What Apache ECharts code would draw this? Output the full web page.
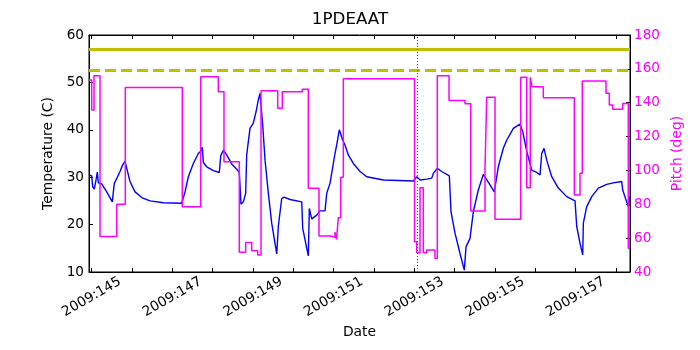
<!DOCTYPE html>
<html>
<head>
<meta charset="utf-8">
<script src="https://cdn.jsdelivr.net/npm/echarts@6/dist/echarts.min.js"></script>
<style>html,body{margin:0;padding:0;background:#fff}#c{width:700px;height:350px}</style>
</head>
<body>
<div id="c"></div>
<script>
// ---- data (day of year 2009, decimal) ----
const xMin = 144.933, xMax = 158.347;
const tickDays = [145,146,147,148,149,150,151,152,153,154,155,156,157,158];
const labelDays = [145,147,149,151,153,155,157];
const tempTimes = [144.933,145.000,145.025,145.064,145.107,145.139,145.164,145.248,145.372,145.511,145.560,145.635,145.702,145.769,145.826,145.868,145.950,146.074,146.240,146.446,146.776,147.232,147.314,147.396,147.520,147.644,147.703,147.743,147.768,147.852,148.016,148.164,148.199,148.263,148.347,148.471,148.595,148.660,148.702,148.759,148.818,148.843,148.925,149.007,149.075,149.131,149.173,149.198,149.240,149.298,149.380,149.463,149.588,149.627,149.711,149.769,149.917,150.208,150.232,150.371,150.396,150.455,150.579,150.661,150.785,150.827,150.909,150.991,151.033,151.075,151.140,151.182,151.224,151.281,151.363,151.487,151.653,151.819,152.232,152.976,153.011,153.060,153.142,153.308,153.432,153.471,153.569,153.678,153.867,153.909,154.008,154.132,154.239,154.281,154.380,154.462,154.586,154.710,154.752,154.876,154.982,155.082,155.206,155.290,155.454,155.620,155.687,155.786,155.910,156.034,156.116,156.158,156.215,156.282,156.406,156.570,156.778,156.984,157.026,157.107,157.175,157.190,157.274,157.398,157.562,157.770,157.933,158.141,158.166,158.264,158.305,158.347];
const tempValues = [30.5,30.25,28.0,27.5,29.4,31.1,28.8,28.6,26.9,24.8,28.7,30.0,31.2,32.6,33.4,31.9,29.1,26.9,25.7,25.0,24.6,24.5,26.9,30.1,32.9,35.0,35.5,36.3,33.1,32.2,31.4,31.0,34.5,35.7,34.7,32.8,31.7,31.0,24.3,24.8,26.6,34.7,40.3,41.4,43.8,46.3,47.7,48.0,41.0,33.6,26.6,20.3,13.8,19.6,25.5,25.8,25.3,24.8,19.2,13.4,23.4,21.2,22.0,22.9,22.9,26.6,28.7,32.9,35.0,36.8,40.0,40.3,37.8,36.8,34.7,32.9,31.2,30.1,29.4,29.2,29.05,30.1,29.4,29.6,29.8,30.8,31.9,31.2,30.3,22.7,18.2,13.9,10.4,15.3,17.1,22.7,27.3,30.6,30.3,28.4,26.9,32.2,36.1,37.8,40.3,41.2,39.6,35.5,31.5,31.0,30.5,35.0,36.1,33.6,30.1,27.7,25.9,25.0,19.6,16.1,13.6,20.3,23.8,25.9,27.7,28.5,28.8,29.1,27.3,24.8,23.8,26.0];
const pitchTimes = [144.933,145.000,145.057,145.206,145.620,145.833,147.246,147.703,148.139,148.280,148.660,148.818,148.967,149.116,149.198,149.612,149.726,150.222,150.371,150.636,150.909,151.033,151.070,151.115,151.174,151.239,153.004,153.059,153.140,153.222,153.307,153.512,153.569,153.860,154.256,154.398,154.752,154.794,155.000,155.637,155.786,155.875,155.918,156.197,156.966,157.107,157.164,157.752,157.834,157.918,158.166,158.305,158.347];
const pitchValues = [153.4,135.7,156.0,61.0,80.0,149.0,78.6,155.4,146.5,105.2,51.6,57.5,52.6,50.0,147.1,136.7,146.5,148.0,89.4,61.3,60.5,63.5,59.3,72.1,95.9,154.2,57.9,51.4,89.8,51.4,53.0,48.0,156.0,141.3,139.4,76.0,101.2,143.2,71.1,155.0,89.8,155.0,149.5,143.0,85.5,98.3,152.8,145.6,138.6,136.1,139.6,54.0,54.0];
const limitSolid = [57];
const limitDashed = [52.5];
const eventDay = [153.07];

const tempData = tempTimes.map((t, i) => [t, tempValues[i]]);
const pitchData = pitchTimes.map((t, i) => [t, pitchValues[i]]);

const FONT = 'DejaVu Sans';
const chart = echarts.init(document.getElementById('c'), null, {renderer: 'canvas'});
chart.setOption({
  animation: false,
  backgroundColor: '#fff',
  title: {
    text: '1PDEAAT', left: 'center', top: 11, padding: 0,
    textStyle: {fontFamily: FONT, fontSize: 16.7, fontWeight: 'normal', color: '#000'}
  },
  grid: {left: 89, right: 70, top: 35, bottom: 78, show: true, borderColor: '#000', borderWidth: 1, backgroundColor: 'transparent'},
  xAxis: [{
    type: 'value', min: xMin, max: xMax, position: 'bottom',
    name: 'Date', nameLocation: 'middle', nameGap: 50,
    nameTextStyle: {fontFamily: FONT, fontSize: 13.9, color: '#000'},
    axisLine: {show: true, lineStyle: {color: '#000', width: 1}},
    axisTick: {show: true, inside: true, length: 4, customValues: tickDays, lineStyle: {color: '#000'}},
    axisLabel: {
      customValues: labelDays, rotate: 30, align: 'center', verticalAlign: 'middle', margin: 25,
      fontFamily: FONT, fontSize: 13.7, color: '#000',
      formatter: v => '2009:' + Math.round(v)
    },
    splitLine: {show: false}
  }, {
    type: 'value', min: xMin, max: xMax, position: 'top',
    axisLine: {show: true, lineStyle: {color: '#000', width: 1}},
    axisTick: {show: true, inside: true, length: 4, customValues: tickDays, lineStyle: {color: '#000'}},
    axisLabel: {show: false},
    splitLine: {show: false}
  }],
  yAxis: [{
    type: 'value', min: 10, max: 60, interval: 10, position: 'left',
    name: 'Temperature (C)', nameLocation: 'middle', nameGap: 30,
    nameTextStyle: {fontFamily: FONT, fontSize: 13.9, color: '#000'},
    axisLine: {show: true, lineStyle: {color: '#000'}},
    axisTick: {show: true, inside: true, length: 4, lineStyle: {color: '#000'}},
    axisLabel: {fontFamily: FONT, fontSize: 13.6, color: '#000', margin: 5},
    splitLine: {show: false}
  }, {
    type: 'value', min: 40, max: 180, interval: 20, position: 'right', alignTicks: false,
    name: 'Pitch (deg)', nameLocation: 'middle', nameGap: 29,
    nameTextStyle: {fontFamily: FONT, fontSize: 13.9, color: '#ff00ff'},
    axisLine: {show: true, lineStyle: {color: '#000'}},
    axisTick: {show: true, inside: true, length: 4, lineStyle: {color: '#000'}},
    axisLabel: {fontFamily: FONT, fontSize: 13.6, color: '#ff00ff', margin: 4},
    splitLine: {show: false}
  }],
  series: [{
    type: 'line', name: 'temp', xAxisIndex: 0, yAxisIndex: 0, data: tempData,
    showSymbol: false, symbol: 'none', lineStyle: {color: '#0000ff', width: 1.4}, z: 2,
    markLine: {
      silent: true, symbol: 'none', label: {show: false},
      data: [
        {yAxis: limitSolid[0], lineStyle: {color: '#bfbf00', width: 3, type: 'solid'}},
        {yAxis: limitDashed[0], lineStyle: {color: '#bfbf00', width: 3, type: [11, 5]}},
        {xAxis: eventDay[0], lineStyle: {color: '#008000', width: 1, type: [1, 2]}}
      ]
    }
  }, {
    type: 'line', name: 'pitch', xAxisIndex: 0, yAxisIndex: 1, data: pitchData, step: 'end',
    showSymbol: false, symbol: 'none', lineStyle: {color: '#ff00ff', width: 1.5}, z: 3
  }]
});
</script>
</body>
</html>
